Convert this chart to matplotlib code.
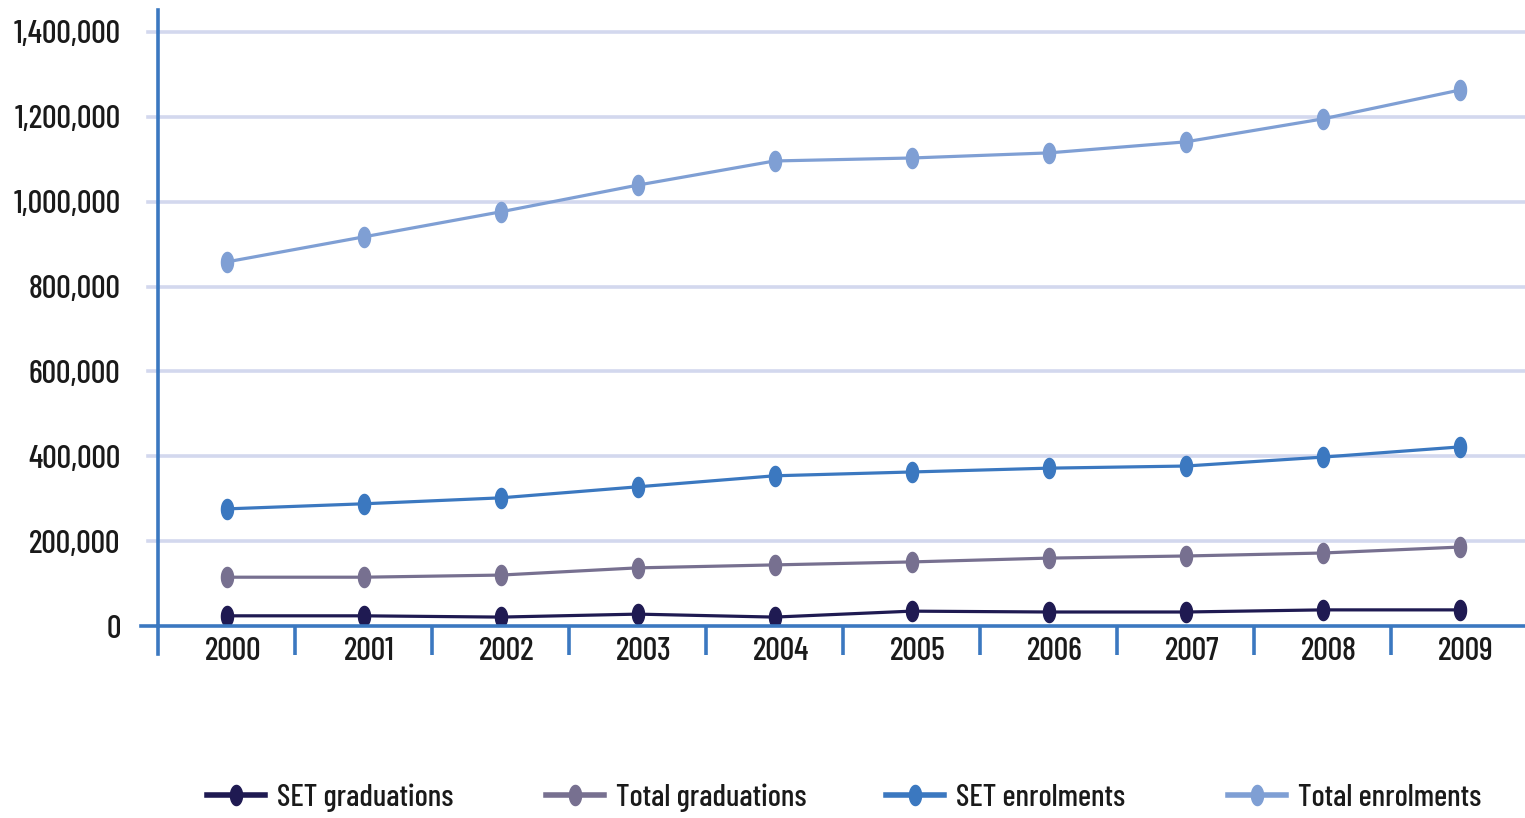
import matplotlib
matplotlib.use("Agg")
import matplotlib.pyplot as plt
from matplotlib.path import Path
import numpy as np

years = ["2000", "2001", "2002", "2003", "2004", "2005", "2006", "2007", "2008", "2009"]
set_graduations = [24000, 24000, 21000, 28000, 21000, 35000, 33000, 33000, 38000, 38000]
total_graduations = [115000, 115000, 120000, 137000, 144000, 151000, 160000, 165000, 172000, 186000]
set_enrolments = [276000, 288000, 302000, 328000, 354000, 363000, 372000, 377000, 398000, 422000]
total_enrolments = [858000, 917000, 976000, 1039000, 1096000, 1103000, 1115000, 1141000, 1195000, 1263000]
series_names = ["SET graduations", "Total graduations", "SET enrolments", "Total enrolments"]
series_colors = ["#1f1a52", "#777090", "#3b78c0", "#7f9fd4"]
y_ticks = [0, 200000, 400000, 600000, 800000, 1000000, 1200000, 1400000]

FONT = ["Barlow Condensed", "Asap Condensed", "DejaVu Sans"]
plt.rcParams["font.family"] = FONT
plt.rcParams["font.weight"] = "medium"
TXT_C = "#1a1a1a"

W, H = 1525, 818
fig = plt.figure(figsize=(W / 100, H / 100), dpi=100)

# choose a font size so that "1,400,000" is about as wide as in the reference (~110 px)
renderer = fig.canvas.get_renderer()
probe = fig.text(0, 0, "1,400,000", fontsize=20)
pw = probe.get_window_extent(renderer).width
probe.remove()
FS = 20 * 108 / pw
FS_LEG = FS * 0.96

# vertically elongated ellipse marker
t = np.linspace(0, 2 * np.pi, 60)
ell = Path(np.column_stack([0.6 * np.cos(t), np.sin(t)]), closed=True)

AX_L, AX_B, AX_T = 158, 626, 10
ax = fig.add_axes([AX_L / W, 1 - AX_B / H, 1 - AX_L / W, (AX_B - AX_T) / H])
AW, AH = W - AX_L, AX_B - AX_T

x = np.arange(len(years))
grid_c = "#d3d8ee"
spine_c = "#3b78c0"

for v in y_ticks[1:]:
    ax.axhline(v, color=grid_c, lw=2.6, zorder=1)
    ax.plot([-10 / AW, 0], [v, v], color=grid_c, lw=2.6, transform=ax.get_yaxis_transform(),
            clip_on=False, zorder=1)

data = [set_graduations, total_graduations, set_enrolments, total_enrolments]
handles = []
for vals, name, col in zip(data, series_names, series_colors):
    h, = ax.plot(x, vals, color=col, lw=2.3, marker=ell, markersize=14.5, label=name, zorder=3)
    handles.append(h)

ax.set_xlim(-0.5, -0.5 + AW / 137.0)
ax.set_ylim(0, AH / 424.3 * 1e6)

for s in ["top", "right", "left"]:
    ax.spines[s].set_visible(False)
ax.spines["bottom"].set_color(spine_c)
ax.spines["bottom"].set_linewidth(2.6)
ax.spines["bottom"].set_zorder(4)
ax.plot([-17 / AW, 0], [0, 0], color=spine_c, lw=2.6, transform=ax.transAxes, clip_on=False, zorder=4)
ax.plot([0, 0], [-28 / AH, 1], color=spine_c, lw=2.6, transform=ax.transAxes, clip_on=False, zorder=4)

ax.set_yticks(y_ticks)
ax.set_yticklabels([f"{v:,}" for v in y_ticks])
ax.tick_params(axis="y", length=0, pad=27, labelsize=FS, labelcolor=TXT_C)

ax.set_xticks(x + 0.045)
ax.set_xticklabels(years)
ax.set_xticks(np.arange(0.5, 9.0, 1.0), minor=True)
ax.tick_params(axis="x", which="major", length=0, pad=8, labelsize=FS, labelcolor=TXT_C)
ax.tick_params(axis="x", which="minor", length=21, width=2.6, color=spine_c, direction="out")

# legend entries at the reference positions
fs_px = FS_LEG * 100 / 72
entry_x = [207, 546, 886, 1228]
for h, name, ex in zip(handles, series_names, entry_x):
    leg = fig.legend(handles=[h], labels=[name], loc="center left",
                     bbox_to_anchor=(ex / W, 1 - 798 / H), frameon=False, fontsize=FS_LEG,
                     handlelength=58 / fs_px, handletextpad=12 / fs_px, borderpad=0,
                     borderaxespad=0, labelcolor=TXT_C)
    for ln in leg.get_lines():
        ln.set_linewidth(4)

fig.savefig("out.png", dpi=100)
